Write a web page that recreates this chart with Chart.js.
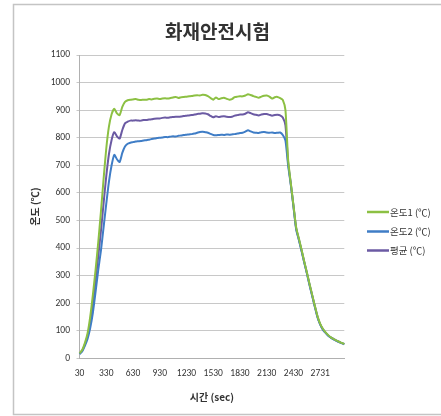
<!DOCTYPE html>
<html>
<head>
<meta charset="utf-8">
<script src="https://cdn.jsdelivr.net/npm/chart.js@4.4.0/dist/chart.umd.min.js"></script>
<style>
  html, body { margin: 0; padding: 0; background: #fff; }
  #wrap { width: 441px; height: 416px; position: relative; }
</style>
</head>
<body>
<div id="wrap"><canvas id="chart" width="441" height="416"></canvas></div>
<script>
// time labels (sec), one point every 30 s; the logger slips one second after 2430
const times = [
  30, 60, 90, 120, 150, 180, 210, 240, 270, 300,
  330, 360, 390, 420, 450, 480, 510, 540, 570, 600,
  630, 660, 690, 720, 750, 780, 810, 840, 870, 900,
  930, 960, 990, 1020, 1050, 1080, 1110, 1140, 1170, 1200,
  1230, 1260, 1290, 1320, 1350, 1380, 1410, 1440, 1470, 1500,
  1530, 1560, 1590, 1620, 1650, 1680, 1710, 1740, 1770, 1800,
  1830, 1860, 1890, 1920, 1950, 1980, 2010, 2040, 2070, 2100,
  2130, 2160, 2190, 2220, 2250, 2280, 2310, 2340, 2370, 2400,
  2430, 2461, 2491, 2521, 2551, 2581, 2611, 2641, 2671, 2701,
  2731, 2761, 2791, 2821, 2851, 2881, 2911, 2941, 2971, 3001
];

const temp1 = [
  18, 30, 55, 90, 150, 230, 320, 420, 530, 650,
  760, 840, 885, 905, 888, 882, 912, 930, 936, 938,
  939, 940, 938, 937, 938, 938, 940, 939, 941, 942,
  940, 942, 943, 942, 944, 946, 948, 944, 947, 948,
  949, 950, 951, 953, 954, 953, 956, 955, 951, 944,
  938, 946, 940, 943, 945, 941, 938, 940, 947, 949,
  950, 950, 953, 958, 955, 951, 948, 945, 949, 952,
  953, 949, 942, 947, 948, 944, 937, 900, 720, 635,
  555, 475, 435, 395, 352, 312, 270, 230, 190, 152,
  125, 107, 94, 84, 76, 70, 65, 60, 56, 52
];

const temp2 = [
  15, 25, 45, 70, 110, 165, 240, 320, 390, 475,
  560, 640, 700, 738, 722, 712, 745, 768, 778, 782,
  784, 786, 787, 788, 790, 791, 793, 795, 797, 799,
  800, 801, 803, 802, 804, 805, 804, 807, 808, 810,
  811, 812, 813, 815, 818, 821, 822, 820, 818, 814,
  810, 809, 810, 811, 810, 812, 811, 812, 813, 815,
  817, 818, 822, 827, 823, 819, 818, 817, 820, 821,
  819, 818, 819, 817, 818, 819, 810, 790, 700, 630,
  550, 468, 430, 390, 348, 308, 266, 226, 186, 148,
  122, 104, 92, 82, 75, 69, 64, 59, 55, 51
];

const average = [
  17, 28, 50, 80, 130, 198, 280, 370, 460, 562,
  660, 740, 792, 820, 805, 797, 828, 852, 858, 862,
  862, 863, 862, 862, 864, 864, 866, 867, 869, 870,
  870, 872, 873, 872, 874, 875, 876, 876, 877, 879,
  880, 881, 882, 884, 886, 887, 889, 888, 885, 879,
  874, 878, 875, 877, 878, 876, 875, 876, 880, 882,
  884, 884, 887, 892, 889, 885, 883, 881, 884, 886,
  886, 883, 880, 882, 883, 881, 873, 845, 710, 632,
  552, 472, 432, 392, 350, 310, 268, 228, 188, 150,
  123, 105, 93, 83, 75, 70, 64, 60, 55, 52
];

const yTicks = [0, 100, 200, 300, 400, 500, 600, 700, 800, 900, 1000, 1100];

const chartTitle = '화재안전시험';

const fontKr = '"Noto Sans CJK KR", "Noto Sans", sans-serif';
const fontNum = 'Calibri, "Liberation Sans", "Noto Sans", sans-serif';

// frame, title and the legend on the right
const framePlugin = {
  id: 'frame',
  beforeDraw(chart) {
    const ctx = chart.ctx;
    ctx.save();
    ctx.fillStyle = '#fff';
    ctx.fillRect(0, 0, chart.width, chart.height);
    ctx.strokeStyle = '#c4c4c4';
    ctx.lineWidth = 1.5;
    ctx.beginPath();
    ctx.moveTo(441, 4.5);
    ctx.lineTo(13.5, 4.5);
    ctx.lineTo(13.5, 414.5);
    ctx.lineTo(441, 414.5);
    ctx.stroke();

    ctx.fillStyle = '#333';
    ctx.font = 'bold 19px ' + fontKr;
    ctx.textAlign = 'center';
    ctx.textBaseline = 'middle';
    ctx.fillText(chartTitle, 217.5, 32);
    ctx.restore();
  },
  afterDraw(chart) {
    const ctx = chart.ctx;
    const rows = [212, 231.5, 250.5];
    ctx.save();
    ctx.font = '9.5px ' + fontKr;
    ctx.textBaseline = 'middle';
    chart.data.datasets.forEach((ds, i) => {
      ctx.strokeStyle = ds.borderColor;
      ctx.lineWidth = 2.5;
      ctx.beginPath();
      ctx.moveTo(367, rows[i]);
      ctx.lineTo(389, rows[i]);
      ctx.stroke();
      ctx.fillStyle = '#333';
      ctx.fillText(ds.label, 390, rows[i]);
    });
    ctx.restore();
  }
};

new Chart(document.getElementById('chart'), {
  type: 'line',
  data: {
    labels: times,
    datasets: [{
      label: '온도1 (℃)',
      data: temp1,
      borderColor: '#8cc043',
      borderWidth: 2,
      pointRadius: 0,
      tension: 0.2
    }, {
      label: '온도2 (℃)',
      data: temp2,
      borderColor: '#3f7dc6',
      borderWidth: 2,
      pointRadius: 0,
      tension: 0.2
    }, {
      label: '평균 (℃)',
      data: average,
      borderColor: '#6b5aa3',
      borderWidth: 2,
      pointRadius: 0,
      tension: 0.2
    }]
  },
  options: {
    responsive: false,
    animation: false,
    layout: {
      padding: { left: 29, right: 96.7, top: 55, bottom: 13 }
    },
    plugins: {
      legend: { display: false },
      tooltip: { enabled: false },
      title: { display: false }
    },
    scales: {
      x: {
        type: 'category',
        grid: { display: false, drawTicks: false },
        border: { display: true, color: '#b0b0b0', width: 1 },
        ticks: {
          autoSkip: false,
          maxRotation: 0,
          padding: 10,
          color: '#333',
          font: { family: fontNum, size: 9.5 },
          callback: function(value, index) {
            return index % 10 === 0 ? this.getLabelForValue(value) : '';
          }
        },
        title: {
          display: true,
          text: '시간 (sec)',
          color: '#333',
          font: { family: fontKr, size: 10, weight: 'bold' },
          padding: 0
        },
        afterFit: (scale) => { scale.height = 44.7; }
      },
      y: {
        min: 0,
        max: 1100,
        grid: { color: '#c8c8c8', lineWidth: 1, drawTicks: true, tickLength: 3 },
        border: { display: true, color: '#b0b0b0', width: 1 },
        afterBuildTicks: (scale) => { scale.ticks = yTicks.map(v => ({ value: v })); },
        ticks: {
          padding: 6.5,
          color: '#333',
          font: { family: fontNum, size: 9.5 },
          callback: (value) => String(value)
        },
        title: {
          display: true,
          text: '온도 (℃)',
          color: '#333',
          font: { family: fontKr, size: 10, weight: 'bold' },
          padding: 0
        },
        afterFit: (scale) => { scale.width = 50.5; }
      }
    }
  },
  plugins: [framePlugin]
});
</script>
</body>
</html>
